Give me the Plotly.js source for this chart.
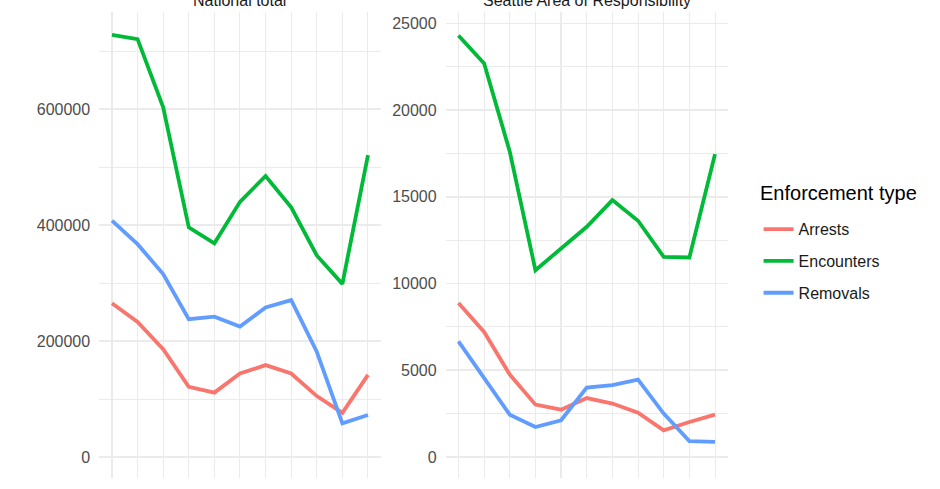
<!DOCTYPE html>
<html>
<head>
<meta charset="utf-8">
<script src="https://cdn.plot.ly/plotly-3.0.1.min.js"></script>
<style>
  html, body { margin: 0; padding: 0; background: #fff; }
  #graph { width: 940px; height: 489px; }
</style>
</head>
<body>
<div id="graph"></div>
<script>
// fiscal years on the x axis
var years = [2012, 2013, 2014, 2015, 2016, 2017, 2018, 2019, 2020, 2021, 2022];

// National total
var natArrests    = [265000, 233000, 186000, 121000, 111000, 144000, 158500, 144000, 105000, 76000, 141500];
var natEncounters = [728000, 720500, 603000, 396000, 368500, 440000, 484500, 430500, 347500, 298500, 520500];
var natRemovals   = [407500, 367000, 315500, 237500, 242000, 225000, 258000, 270500, 181500, 58000, 72500];

// Seattle Area of Responsibility
var seaArrests    = [8880, 7210, 4750, 3020, 2730, 3400, 3080, 2560, 1540, 2020, 2440];
var seaEncounters = [24300, 22690, 17600, 10770, 12020, 13270, 14810, 13620, 11540, 11500, 17460];
var seaRemovals   = [6670, 4520, 2440, 1730, 2120, 4000, 4140, 4460, 2500, 920, 870];

var typeNames  = ['Arrests', 'Encounters', 'Removals'];
var typeColors = ['#F8766D', '#00BA38', '#619CFF'];

var natSeries = [natArrests, natEncounters, natRemovals];
var seaSeries = [seaArrests, seaEncounters, seaRemovals];

var data = [];
for (var i = 0; i < typeNames.length; i++) {
  data.push({
    x: years, y: natSeries[i], mode: 'lines', type: 'scatter',
    name: typeNames[i], legendgroup: typeNames[i],
    line: {color: typeColors[i], width: 3.8},
    xaxis: 'x', yaxis: 'y', hoverinfo: 'skip'
  });
}
for (var i = 0; i < typeNames.length; i++) {
  data.push({
    x: years, y: seaSeries[i], mode: 'lines', type: 'scatter',
    name: typeNames[i], legendgroup: typeNames[i], showlegend: false,
    line: {color: typeColors[i], width: 3.8},
    xaxis: 'x2', yaxis: 'y2', hoverinfo: 'skip'
  });
}

var gridCol = '#ebebeb';
var tickFont = {family: 'Liberation Sans, Arial, sans-serif', size: 16, color: '#4d4d4d'};
var yDomain = [0.0225, 0.9746];

function xAxis(dom, anchor) {
  return {
    domain: dom, anchor: anchor, range: [2011.5, 2022.5],
    tickvals: [2012, 2016, 2020], ticktext: ['2012', '2016', '2020'],
    showgrid: true, gridcolor: gridCol, gridwidth: 1.3,
    minor: {tick0: 2012, dtick: 1, showgrid: true, gridcolor: gridCol, gridwidth: 1},
    zeroline: false, showline: false, ticks: '',
    tickfont: tickFont, ticklabelstandoff: 6, fixedrange: true
  };
}
function yAxis(range, dtick, anchor) {
  return {
    domain: yDomain, anchor: anchor, range: range,
    tick0: 0, dtick: dtick, tickformat: 'd',
    showgrid: true, gridcolor: gridCol, gridwidth: 1.6,
    minor: {tick0: 0, dtick: dtick / 2, showgrid: true, gridcolor: gridCol, gridwidth: 1},
    zeroline: false, showline: false, ticks: '',
    tickfont: tickFont, ticklabelstandoff: 8, fixedrange: true
  };
}

var layout = {
  width: 940, height: 489,
  margin: {l: 0, r: 0, t: 0, b: 0},
  paper_bgcolor: '#ffffff', plot_bgcolor: 'rgba(0,0,0,0)',
  font: {family: 'Liberation Sans, Arial, sans-serif', color: '#1a1a1a'},
  xaxis: xAxis([0.1055, 0.4051], 'y'),
  yaxis: yAxis([-36200, 766550], 200000, 'x'),
  xaxis2: xAxis([0.4741, 0.7743], 'y2'),
  yaxis2: yAxis([-1210, 25628], 5000, 'x2'),
  showlegend: true,
  legend: {
    x: 0.807, xanchor: 'left', y: 0.566, yanchor: 'top',
    bgcolor: 'rgba(0,0,0,0)',
    font: {size: 16, color: '#1a1a1a'},
    tracegroupgap: 8
  },
  annotations: [
    {text: 'National total', xref: 'paper', yref: 'paper', x: (0.1055 + 0.4051) / 2, y: 0.998,
     xanchor: 'center', yanchor: 'middle', showarrow: false, font: {size: 16, color: '#1a1a1a'}},
    {text: 'Seattle Area of Responsibility', xref: 'paper', yref: 'paper', x: (0.4741 + 0.7743) / 2, y: 0.998,
     xanchor: 'center', yanchor: 'middle', showarrow: false, font: {size: 16, color: '#1a1a1a'}},
    {text: 'Enforcement type', xref: 'paper', yref: 'paper', x: 758 / 940, y: (489 - 193) / 489,
     xanchor: 'left', yanchor: 'middle', showarrow: false, font: {size: 20, color: '#000000'}}
  ]
};

Plotly.newPlot('graph', data, layout, {staticPlot: true, displayModeBar: false});
</script>
</body>
</html>
